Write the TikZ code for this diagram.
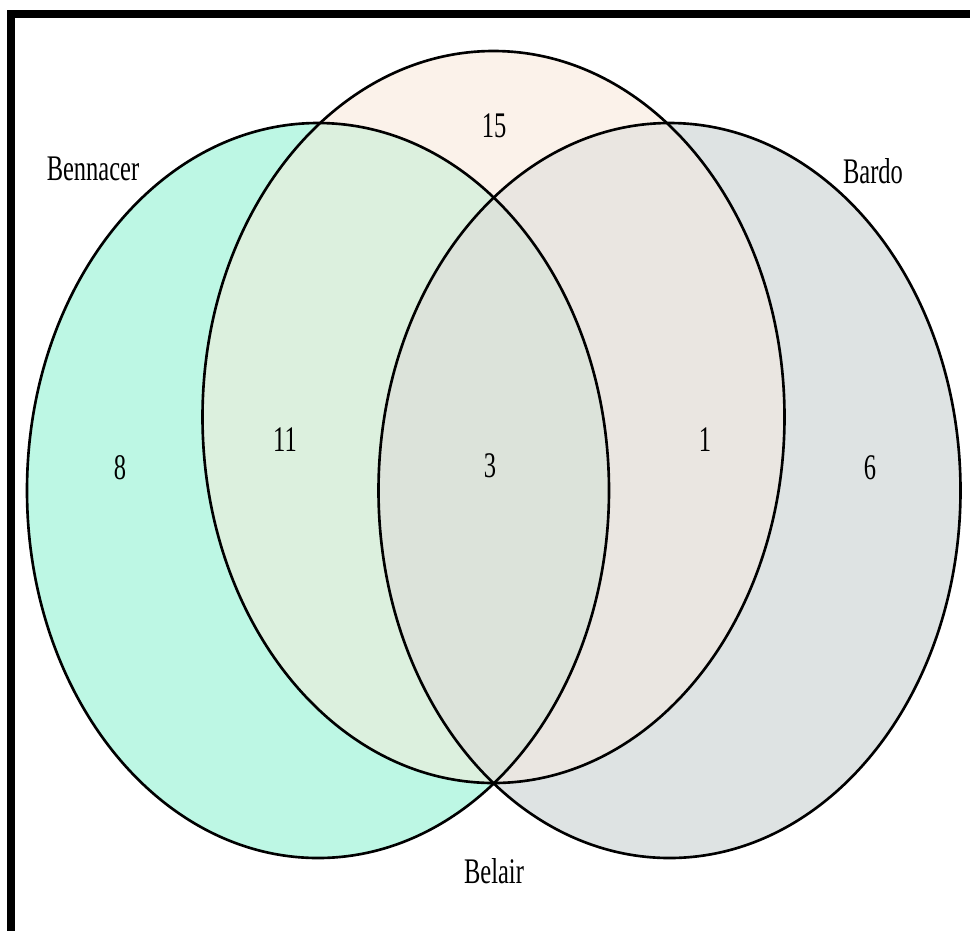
\documentclass[tikz,border=0pt]{standalone}
\usepackage{fontspec}
\setmainfont{Liberation Serif}
\definecolor{colA}{HTML}{BDF7E4}
\definecolor{colB}{HTML}{DEE3E3}
\definecolor{colC}{HTML}{FBF2EA}
\definecolor{colAC}{HTML}{DCF0DE}
\definecolor{colBC}{HTML}{EAE6E1}
\definecolor{colABC}{HTML}{DCE3DA}
\tikzset{
  lbl/.style={inner sep=0pt, font=\fontsize{20.5}{22}\selectfont},
  outline/.style={draw=black, line width=1.5pt},
}
\newcommand{\sq}[1]{\scalebox{0.68}[1]{#1}}
\begin{document}
\begin{tikzpicture}[x=0.02cm, y=-0.02cm]
\useasboundingbox (0,0) rectangle (970,931);
\fill[white] (0,0) rectangle (970,931);
% ellipses: A = Bennacer, B = Bardo, C = Belair
\def\pathA{(318,490.5) ellipse [x radius=291, y radius=367.5]}
\def\pathB{(669.5,490.5) ellipse [x radius=291, y radius=367.5]}
\def\pathC{(493.5,417) ellipse [x radius=291, y radius=366]}
\fill[colA] \pathA;
\fill[colB] \pathB;
\fill[colC] \pathC;
\begin{scope}
  \clip \pathA;
  \fill[colAC] \pathC;
\end{scope}
\begin{scope}
  \clip \pathB;
  \fill[colBC] \pathC;
\end{scope}
\begin{scope}
  \clip \pathA;
  \fill[colABC] \pathB;
\end{scope}
\draw[outline] \pathA;
\draw[outline] \pathB;
\draw[outline] \pathC;
% frame (top and left only)
\fill[black] (7,10) rectangle (970,18);
\fill[black] (7,10) rectangle (15,931);
% labels
\node[lbl] (nBen) at (93,169) {\sq{Bennacer}};
\node[lbl] (nBar) at (873,171) {\sq{Bardo}};
\node[lbl] (nBel) at (494,871) {\sq{Belair}};
\node[lbl] (n15) at (494,126) {\sq{15}};
\node[lbl] (n11) at (285,440) {\sq{11}};
\node[lbl] (n8) at (120,468) {\sq{8}};
\node[lbl] (n3) at (490,466) {\sq{3}};
\node[lbl] (n1) at (705,440) {\sq{1}};
\node[lbl] (n6) at (870,468) {\sq{6}};
\end{tikzpicture}
\end{document}
